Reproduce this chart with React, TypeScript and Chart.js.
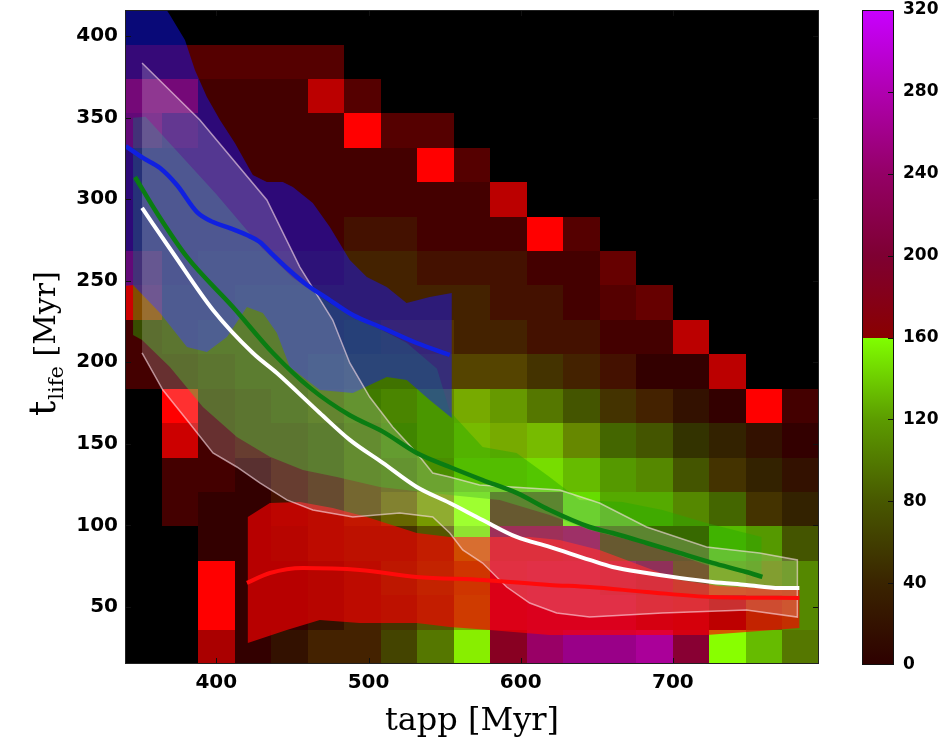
import React, { useEffect, useRef } from 'react';
import { Chart, registerables } from 'chart.js';

Chart.register(...registerables);

// ---------- axes ----------
const tappRange = [340, 796];
const tlifeRange = [15, 416];
const xTickValues = [400, 500, 600, 700];
const yTickValues = [50, 100, 150, 200, 250, 300, 350, 400];
const cbTickValues = [0, 40, 80, 120, 160, 200, 240, 280, 320];

// ---------- heatmap bins ----------
const tappEdges = [340, 364, 388, 412, 436, 460, 484, 508, 532, 556, 580, 604, 628, 652, 676, 700, 724, 748, 772, 796];
const tlifeEdgesTopDown = [415.9, 394.8, 373.7, 352.6, 331.5, 310.4, 289.3, 268.2, 247.1, 226, 204.9, 183.8, 162.7, 141.6, 120.5, 99.4, 78.3, 57.2, 36.1, 15];

// intensities (0-15) per cell, rows from top (high t_life) to bottom
const redGrid = [
  [0, 0, 0, 0, 0, 0, 0, 0, 0, 0, 0, 0, 0, 0, 0, 0, 0, 0, 0],
  [5, 5, 5, 5, 5, 5, 0, 0, 0, 0, 0, 0, 0, 0, 0, 0, 0, 0, 0],
  [12, 12, 4, 4, 4, 11, 5, 0, 0, 0, 0, 0, 0, 0, 0, 0, 0, 0, 0],
  [10, 6, 4, 4, 4, 4, 15, 5, 5, 0, 0, 0, 0, 0, 0, 0, 0, 0, 0],
  [4, 4, 4, 4, 4, 4, 4, 4, 15, 5, 0, 0, 0, 0, 0, 0, 0, 0, 0],
  [4, 4, 4, 4, 4, 4, 4, 4, 4, 4, 11, 0, 0, 0, 0, 0, 0, 0, 0],
  [4, 4, 4, 4, 4, 4, 4, 4, 4, 4, 4, 15, 5, 0, 0, 0, 0, 0, 0],
  [10, 4, 4, 4, 4, 4, 4, 4, 4, 4, 4, 4, 4, 6, 0, 0, 0, 0, 0],
  [12, 4, 4, 4, 4, 4, 4, 4, 4, 4, 4, 4, 4, 5, 6, 0, 0, 0, 0],
  [4, 4, 4, 4, 4, 4, 4, 5, 5, 4, 4, 4, 4, 4, 4, 11, 0, 0, 0],
  [4, 4, 4, 4, 4, 4, 5, 5, 5, 5, 5, 4, 4, 4, 3, 3, 11, 0, 0],
  [0, 15, 4, 4, 4, 5, 5, 6, 6, 7, 6, 5, 4, 4, 4, 3, 3, 15, 4],
  [0, 12, 4, 4, 4, 4, 5, 5, 6, 7, 7, 7, 6, 4, 4, 3, 3, 3, 3],
  [0, 4, 4, 3, 4, 4, 5, 5, 6, 7, 7, 7, 6, 5, 5, 4, 4, 3, 3],
  [0, 4, 3, 3, 4, 4, 5, 6, 7, 8, 4, 4, 6, 5, 5, 5, 4, 4, 3],
  [0, 0, 3, 3, 3, 4, 4, 4, 5, 7, 8, 8, 8, 4, 4, 4, 5, 5, 4],
  [0, 0, 15, 3, 3, 3, 4, 4, 5, 7, 9, 9, 9, 8, 7, 5, 6, 6, 5],
  [0, 0, 15, 3, 3, 3, 4, 4, 5, 7, 9, 9, 9, 9, 8, 8, 4, 5, 5],
  [0, 0, 10, 3, 3, 4, 4, 4, 5, 8, 8, 9, 9, 9, 10, 8, 8, 6, 5],
];
const greenGrid = [
  [0, 0, 0, 0, 0, 0, 0, 0, 0, 0, 0, 0, 0, 0, 0, 0, 0, 0, 0],
  [0, 0, 0, 0, 0, 0, 0, 0, 0, 0, 0, 0, 0, 0, 0, 0, 0, 0, 0],
  [0, 0, 0, 0, 0, 0, 0, 0, 0, 0, 0, 0, 0, 0, 0, 0, 0, 0, 0],
  [0, 0, 0, 0, 0, 0, 0, 0, 0, 0, 0, 0, 0, 0, 0, 0, 0, 0, 0],
  [0, 0, 0, 0, 0, 0, 0, 0, 0, 0, 0, 0, 0, 0, 0, 0, 0, 0, 0],
  [0, 0, 0, 0, 0, 0, 0, 0, 0, 0, 0, 0, 0, 0, 0, 0, 0, 0, 0],
  [0, 0, 0, 0, 0, 0, 1, 1, 0, 0, 0, 0, 0, 0, 0, 0, 0, 0, 0],
  [0, 0, 1, 1, 1, 1, 2, 2, 1, 1, 1, 0, 0, 0, 0, 0, 0, 0, 0],
  [0, 1, 1, 2, 2, 2, 2, 2, 2, 2, 1, 1, 0, 0, 0, 0, 0, 0, 0],
  [0, 1, 2, 2, 2, 2, 3, 3, 3, 2, 2, 1, 1, 0, 0, 0, 0, 0, 0],
  [0, 0, 1, 2, 2, 3, 4, 4, 4, 4, 4, 3, 2, 1, 0, 0, 0, 0, 0],
  [0, 0, 0, 1, 2, 3, 5, 6, 8, 10, 9, 7, 5, 3, 2, 1, 0, 0, 0],
  [0, 0, 0, 1, 1, 2, 4, 6, 8, 11, 10, 11, 8, 6, 5, 3, 2, 1, 0],
  [0, 0, 0, 0, 1, 2, 4, 5, 7, 12, 12, 13, 11, 9, 8, 5, 3, 2, 1],
  [0, 0, 0, 0, 1, 2, 4, 6, 9, 15, 3, 3, 13, 10, 10, 8, 6, 3, 2],
  [0, 0, 0, 0, 1, 2, 3, 3, 5, 13, 0, 0, 0, 3, 3, 3, 11, 9, 5],
  [0, 0, 0, 0, 0, 1, 2, 4, 6, 9, 0, 0, 0, 0, 0, 3, 9, 8, 8],
  [0, 0, 0, 0, 0, 1, 2, 3, 5, 10, 0, 0, 0, 0, 0, 0, 0, 6, 8],
  [0, 0, 0, 0, 1, 2, 2, 4, 7, 14, 0, 0, 0, 0, 0, 0, 15, 11, 7],
];
const blueGrid = [
  [0, 0, 0, 0, 0, 0, 0, 0, 0, 0, 0, 0, 0, 0, 0, 0, 0, 0, 0],
  [0, 0, 0, 0, 0, 0, 0, 0, 0, 0, 0, 0, 0, 0, 0, 0, 0, 0, 0],
  [0, 0, 0, 0, 0, 0, 0, 0, 0, 0, 0, 0, 0, 0, 0, 0, 0, 0, 0],
  [0, 0, 0, 0, 0, 0, 0, 0, 0, 0, 0, 0, 0, 0, 0, 0, 0, 0, 0],
  [0, 0, 0, 0, 0, 0, 0, 0, 0, 0, 0, 0, 0, 0, 0, 0, 0, 0, 0],
  [0, 0, 0, 0, 0, 0, 0, 0, 0, 0, 0, 0, 0, 0, 0, 0, 0, 0, 0],
  [0, 0, 0, 0, 0, 0, 0, 0, 0, 0, 0, 0, 0, 0, 0, 0, 0, 0, 0],
  [0, 0, 0, 0, 0, 0, 0, 0, 0, 0, 0, 0, 0, 0, 0, 0, 0, 0, 0],
  [0, 0, 0, 0, 0, 0, 0, 0, 0, 0, 0, 0, 0, 0, 0, 0, 0, 0, 0],
  [0, 0, 0, 0, 0, 0, 0, 0, 0, 0, 0, 0, 0, 0, 0, 0, 0, 0, 0],
  [0, 0, 0, 0, 0, 0, 0, 0, 0, 0, 0, 0, 0, 0, 0, 0, 0, 0, 0],
  [0, 0, 0, 0, 0, 0, 0, 0, 0, 0, 0, 0, 0, 0, 0, 0, 0, 0, 0],
  [0, 0, 0, 0, 0, 0, 0, 0, 0, 0, 0, 0, 0, 0, 0, 0, 0, 0, 0],
  [0, 0, 0, 0, 0, 0, 0, 0, 0, 0, 0, 0, 0, 0, 0, 0, 0, 0, 0],
  [0, 0, 0, 0, 0, 0, 0, 0, 0, 0, 0, 0, 0, 0, 0, 0, 0, 0, 0],
  [0, 0, 0, 0, 0, 0, 0, 0, 0, 0, 3, 3, 4, 0, 0, 0, 0, 0, 0],
  [0, 0, 0, 0, 0, 0, 0, 0, 0, 0, 4, 5, 5, 4, 3, 0, 0, 0, 0],
  [0, 0, 0, 0, 0, 0, 0, 0, 0, 0, 4, 5, 5, 5, 3, 2, 0, 0, 0],
  [0, 0, 0, 0, 0, 0, 0, 0, 0, 0, 2, 6, 8, 8, 9, 3, 0, 0, 0],
];

// ---------- medians ----------
const blueMedX = [340.5, 351.8, 363.0, 374.1, 387.3, 397.8, 408.9, 420.1, 428.6, 437.2, 446.3, 459.5, 472.6, 489.7, 509.4, 531.7, 553.4];
const blueMedY = [332.5, 325.3, 319.1, 308.7, 292.1, 286.0, 282.3, 278.0, 273.8, 265.8, 257.8, 247.4, 239.4, 229.0, 221.0, 211.8, 204.5];
const greenMedX = [346.6, 361.0, 380.7, 410.9, 437.2, 462.0, 487.7, 509.4, 531.7, 553.4, 575.0, 597.3, 619.0, 645.3, 660.4, 682.7, 704.3, 726.0, 748.3, 758.8];
const greenMedY = [313.6, 291.5, 264.6, 233.9, 205.7, 184.0, 167.5, 157.5, 144.4, 135.8, 127.8, 119.9, 109.4, 99.0, 95.3, 89.2, 83.1, 77.0, 71.4, 68.4];
const whiteMedX = [351.2, 371.5, 397.8, 424.0, 439.8, 468.0, 487.7, 509.4, 531.7, 553.4, 575.0, 597.3, 619.0, 645.3, 660.4, 682.7, 704.3, 726.0, 748.3, 770.0, 783.1];
const whiteMedY = [294.6, 267.0, 232.1, 205.7, 193.4, 168.9, 152.4, 138.3, 123.5, 113.7, 103.3, 92.9, 86.8, 78.8, 74.5, 70.8, 67.8, 65.3, 63.5, 61.6, 61.6];
const redMedX = [420.1, 435.2, 456.9, 494.3, 531.7, 575.0, 619.0, 645.3, 682.7, 726.0, 783.1];
const redMedY = [64.7, 70.8, 73.9, 72.7, 68.4, 66.5, 63.5, 62.2, 59.2, 56.1, 55.5];

// ---------- spread bands (upper edge left->right, lower edge right->left) ----------
const blueUpX = [340, 358, 366, 369.5, 379.4, 386, 393.8, 402.4, 412.2, 424, 433.2, 443.7, 450.3, 463.4, 474.6, 487.7, 498.9, 512, 525, 540.2, 554.7];
const blueUpY = [430, 428, 418, 413, 397.6, 379, 362.7, 348.6, 334.5, 314.8, 310.5, 310.5, 307.5, 297.7, 283, 262.7, 252.3, 246.2, 236.4, 240, 242.5];
const blueLoX = [554.7, 540.2, 525.1, 512.0, 489.7, 468.0, 448.3, 439.8, 430.6, 420.1, 407.0, 393.8, 380.7, 363.0, 345.3, 340];
const blueLoY = [165.8, 176.9, 189.1, 191.0, 181.2, 183.0, 197.1, 218.0, 230.2, 233.9, 215.5, 206.3, 209.4, 230.2, 247.4, 246.8];

const greenUpX = [345.3, 353.5, 400, 430, 450, 475, 500, 525, 545, 553.4, 575.0, 597.3, 619.0, 638.7, 666.9, 693.2, 722.1, 758.2];
const greenUpY = [350, 350.6, 303, 270, 252, 236, 224, 212, 196, 170, 148.1, 144.4, 129.7, 115.6, 114.3, 109.4, 101.5, 92.9];
const greenLoX = [758.2, 722.1, 684.6, 645.3, 619.0, 586.2, 553.4, 507.4, 479.2, 456.9, 435.2, 413.5, 391.2, 369.5, 351.2, 345.3];
const greenLoY = [68.4, 75.7, 88.0, 97.2, 106.4, 115.6, 118.6, 123.5, 129.7, 134.0, 142.1, 154.2, 172.6, 197.1, 213.7, 216.7];

const whiteUpX = [351.2, 389.2, 433.2, 454.9, 476.5, 487.7, 500.8, 515.9, 531.7, 542.2, 553.4, 573.0, 625.6, 651.8, 682.7, 722.1, 756.9, 781.8];
const whiteUpY = [383.5, 348.6, 299.5, 258.4, 225.9, 199.6, 178.7, 160.3, 144.4, 132.1, 129.7, 124.8, 121.7, 113.7, 99.0, 86.8, 83.1, 78.8];
const whiteLoX = [781.8, 748.3, 693.2, 645.3, 623.6, 605.9, 590.8, 575.0, 561.9, 553.4, 542.2, 520.5, 489.7, 463.4, 446.3, 428.6, 413.5, 397.8, 380.7, 364.9, 351.2];
const whiteLoY = [43.8, 48.1, 46.3, 43.8, 46.3, 52.4, 62.2, 76.9, 84.9, 95.3, 105.1, 107.6, 105.1, 109.4, 115.6, 126.0, 135.8, 144.4, 164.6, 183.0, 205.7];

const redUpX = [420.7, 435.2, 454.9, 476.5, 498.9, 531.7, 553.4, 579.6, 605.9, 625.6, 651.8, 678.1, 704.3, 730.6, 756.9, 783.1];
const redUpY = [105.1, 113.7, 114.3, 110.7, 105.1, 95.3, 92.9, 92.9, 92.9, 91.1, 84.9, 75.7, 66.5, 62.8, 61.6, 60.4];
const redLoX = [783.1, 748.3, 722.1, 682.7, 619.0, 579.6, 553.4, 531.7, 494.3, 468.0, 446.3, 420.7];
const redLoY = [37.1, 34.6, 32.8, 32.8, 32.8, 35.9, 37.7, 40.2, 40.2, 42.0, 35.9, 27.9];

// ---------- helpers ----------
const pts = (xs: number[], ys: number[]) => xs.map((x, i) => ({ x, y: ys[i] }));
const poly = (ux: number[], uy: number[], lx: number[], ly: number[]) => [...pts(ux, uy), ...pts(lx, ly)];

const band = (data: any[], color: string, order: number, border = 'rgba(0,0,0,0)', bw = 0) => ({
  data,
  fill: 'shape',
  backgroundColor: color,
  borderColor: border,
  borderWidth: bw,
  pointRadius: 0,
  tension: 0,
  order,
});
const median = (data: any[], color: string, order: number, width = 4) => ({
  data,
  fill: false,
  borderColor: color,
  borderWidth: width,
  pointRadius: 0,
  cubicInterpolationMode: 'monotone',
  order,
});

const heatmapPlugin = {
  id: 'heatmap',
  beforeDatasetsDraw(chart: any) {
    const { ctx, chartArea, scales } = chart;
    const xs = scales.x, ys = scales.y;
    ctx.save();
    ctx.beginPath();
    ctx.rect(chartArea.left, chartArea.top, chartArea.right - chartArea.left, chartArea.bottom - chartArea.top);
    ctx.clip();
    ctx.fillStyle = '#000';
    ctx.fillRect(chartArea.left, chartArea.top, chartArea.right - chartArea.left, chartArea.bottom - chartArea.top);
    for (let r = 0; r < redGrid.length; r++) {
      for (let c = 0; c < redGrid[r].length; c++) {
        const px0 = Math.round(xs.getPixelForValue(tappEdges[c]));
        const px1 = Math.round(xs.getPixelForValue(tappEdges[c + 1]));
        const py0 = Math.round(ys.getPixelForValue(tlifeEdgesTopDown[r]));
        const py1 = Math.round(ys.getPixelForValue(tlifeEdgesTopDown[r + 1]));
        const R = Math.min(255, redGrid[r][c] * 17);
        const G = Math.min(255, greenGrid[r][c] * 17);
        const B = Math.min(255, blueGrid[r][c] * 17);
        ctx.fillStyle = `rgb(${R},${G},${B})`;
        ctx.fillRect(px0, py0, px1 - px0, py1 - py0);
      }
    }
    ctx.restore();
  },
};

const framePlugin = {
  id: 'frame',
  afterDatasetsDraw(chart: any) {
    const { ctx, chartArea, scales } = chart;
    const { left, right, top, bottom } = chartArea;
    ctx.save();
    ctx.strokeStyle = '#111';
    ctx.lineWidth = 1;
    ctx.beginPath();
    xTickValues.forEach((v) => {
      const p = Math.round(scales.x.getPixelForValue(v)) + 0.5;
      ctx.moveTo(p, bottom); ctx.lineTo(p, bottom - 6);
      ctx.moveTo(p, top); ctx.lineTo(p, top + 6);
    });
    yTickValues.forEach((v) => {
      const p = Math.round(scales.y.getPixelForValue(v)) + 0.5;
      ctx.moveTo(left, p); ctx.lineTo(left + 6, p);
      ctx.moveTo(right, p); ctx.lineTo(right - 6, p);
    });
    ctx.stroke();
    ctx.strokeStyle = '#222';
    ctx.strokeRect(left + 0.5, top + 0.5, right - left - 1, bottom - top - 1);
    ctx.restore();
  },
  afterDraw(chart: any) {
    const { ctx } = chart;
    ctx.save();
    ctx.translate(55, 416);
    ctx.rotate(-Math.PI / 2);
    ctx.fillStyle = '#000';
    ctx.textAlign = 'left';
    ctx.textBaseline = 'alphabetic';
    ctx.font = '38px "DejaVu Serif"';
    ctx.fillText('t', 0, 0);
    let w = ctx.measureText('t').width + 1;
    ctx.font = '21px "DejaVu Serif"';
    ctx.fillText('life', w, 8);
    w += ctx.measureText('life').width;
    ctx.font = '30px "DejaVu Serif"';
    ctx.fillText(' [Myr]', w, 0);
    ctx.restore();
  },
};

const cbPlugin = {
  id: 'colorbar',
  beforeDatasetsDraw(chart: any) {
    const { ctx, chartArea, scales } = chart;
    const ys = scales.y;
    const { left, right } = chartArea;
    const y0 = ys.getPixelForValue(cbTickValues[0]);
    const y1 = ys.getPixelForValue(cbTickValues[cbTickValues.length - 1]);
    const g = ctx.createLinearGradient(0, y0, 0, y1);
    g.addColorStop(0, '#2e0000');
    g.addColorStop(0.125, '#3a2400');
    g.addColorStop(0.25, '#485800');
    g.addColorStop(0.375, '#5c9c00');
    g.addColorStop(0.4999, '#80ff00');
    g.addColorStop(0.5, '#8a0000');
    g.addColorStop(0.625, '#7e0032');
    g.addColorStop(0.75, '#940066');
    g.addColorStop(0.875, '#b000b0');
    g.addColorStop(1, '#c800ff');
    ctx.save();
    ctx.fillStyle = g;
    ctx.fillRect(left, y1, right - left, y0 - y1);
    ctx.strokeStyle = '#111';
    ctx.lineWidth = 1;
    ctx.beginPath();
    cbTickValues.slice(1, -1).forEach((v) => {
      const p = Math.round(ys.getPixelForValue(v)) + 0.5;
      ctx.moveTo(right, p); ctx.lineTo(right - 6, p);
    });
    ctx.stroke();
    ctx.strokeRect(left + 0.5, y1 + 0.5, right - left - 1, y0 - y1 - 1);
    ctx.restore();
  },
};

export default function App() {
  const mainRef = useRef<HTMLCanvasElement>(null);
  const cbRef = useRef<HTMLCanvasElement>(null);

  useEffect(() => {
    Chart.defaults.font.family = "'DejaVu Sans'";
    const tickFont = { family: "'DejaVu Sans'", size: 20, weight: 'bold' as const };

    const main = new Chart(mainRef.current!, {
      type: 'line',
      data: {
        datasets: [
          band(poly(greenUpX, greenUpY, greenLoX, greenLoY), 'rgba(40,170,0,0.45)', 8),
          band(poly(blueUpX, blueUpY, blueLoX, blueLoY), 'rgba(20,20,255,0.47)', 7),
          band(poly(redUpX, redUpY, redLoX, redLoY), 'rgba(255,0,0,0.65)', 6),
          band(poly(whiteUpX, whiteUpY, whiteLoX, whiteLoY), 'rgba(255,255,255,0.19)', 5, 'rgba(255,225,235,0.6)', 1.5),
          median(pts(blueMedX, blueMedY), '#1020e0', 4, 4.5),
          median(pts(greenMedX, greenMedY), '#0a7d12', 3, 4.5),
          median(pts(redMedX, redMedY), '#ff0a0a', 2, 4),
          median(pts(whiteMedX, whiteMedY), '#ffffff', 1, 4),
        ] as any,
      },
      options: {
        responsive: false,
        animation: false,
        events: [],
        layout: { padding: { left: 0, right: 21, top: 10, bottom: 0 } },
        plugins: { legend: { display: false }, tooltip: { enabled: false } },
        scales: {
          x: {
            type: 'linear',
            min: tappRange[0],
            max: tappRange[1],
            afterBuildTicks: (s: any) => { s.ticks = xTickValues.map((v) => ({ value: v })); },
            afterFit: (s: any) => { s.height = 73; s.paddingLeft = 0; s.paddingRight = 0; },
            ticks: { font: tickFont, color: '#000', padding: 7, maxRotation: 0 },
            grid: { display: false, drawTicks: false },
            border: { display: false },
            title: {
              display: true,
              text: 'tapp [Myr]',
              font: { family: "'DejaVu Serif'", size: 32, lineHeight: 0.95 },
              color: '#000',
              padding: { top: 0, bottom: 0 },
            },
          },
          y: {
            type: 'linear',
            min: tlifeRange[0],
            max: tlifeRange[1],
            afterBuildTicks: (s: any) => { s.ticks = yTickValues.map((v) => ({ value: v })); },
            afterFit: (s: any) => { s.width = 125; s.paddingTop = 0; s.paddingBottom = 0; },
            ticks: { font: tickFont, color: '#000', padding: 7 },
            grid: { display: false, drawTicks: false },
            border: { display: false },
          },
        },
      },
      plugins: [heatmapPlugin, framePlugin],
    } as any);

    const cb = new Chart(cbRef.current!, {
      type: 'scatter',
      data: { datasets: [{ data: [] }] },
      options: {
        responsive: false,
        animation: false,
        events: [],
        layout: { padding: { left: 22, right: 0, top: 10, bottom: 72 } },
        plugins: { legend: { display: false }, tooltip: { enabled: false } },
        scales: {
          x: { display: false, min: 0, max: 1 },
          y: {
            type: 'linear',
            position: 'right',
            min: cbTickValues[0],
            max: cbTickValues[cbTickValues.length - 1],
            afterBuildTicks: (s: any) => { s.ticks = cbTickValues.map((v) => ({ value: v })); },
            afterFit: (s: any) => { s.width = 53; s.paddingTop = 0; s.paddingBottom = 0; },
            ticks: { font: { family: "'DejaVu Sans'", size: 17, weight: 'bold' }, color: '#000', padding: 9 },
            grid: { display: false, drawTicks: false },
            border: { display: false },
          },
        },
      },
      plugins: [cbPlugin],
    } as any);

    return () => {
      main.destroy();
      cb.destroy();
    };
  }, []);

  return (
    <div style={{ position: 'fixed', left: 0, top: 0, width: 947, height: 737, background: '#fff' }}>
      <canvas ref={mainRef} width={840} height={737} style={{ position: 'absolute', left: 0, top: 0 }} />
      <canvas ref={cbRef} width={107} height={737} style={{ position: 'absolute', left: 840, top: 0 }} />
    </div>
  );
}
